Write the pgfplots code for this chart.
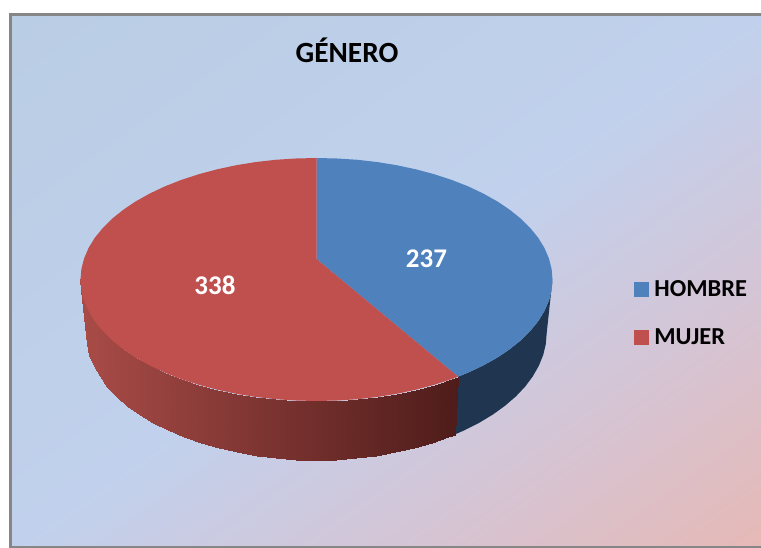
\documentclass[border=0pt]{standalone}
\usepackage{fontspec}
\setmainfont{Carlito}
\usepackage{pgfplots}
\pgfplotsset{compat=1.18}

\definecolor{topblue}{RGB}{79,129,189}
\definecolor{topred}{RGB}{192,80,77}
\definecolor{sideblue}{RGB}{31,53,80}
\definecolor{framegray}{RGB}{134,134,134}

\begin{document}
\begin{tikzpicture}
\path[use as bounding box] (0,0) rectangle (761pt,548pt);
\begin{axis}[
    at={(0,0)}, anchor=south west,
    scale only axis, width=761pt, height=548pt,
    xmin=0, xmax=761, ymin=0, ymax=548,
    y dir=reverse,
    hide axis,
    point meta min=85, point meta max=458,
    legend style={at={(axis cs:634,278)}, anchor=north west, draw=none, fill=none,
        font=\fontsize{24.4}{24.4}\selectfont\bfseries, row sep=26.5pt, inner sep=0pt},
    legend cell align=left,
    legend image code/.code={\fill[#1] (0pt,-7pt) rectangle (14pt,7pt); \path[draw=none] (0pt,0pt) -- (18pt,0pt);},
    colormap={bgmap}{rgb255(0)=(185,205,228); rgb255(1)=(189,207,232); rgb255(2)=(193,209,237); rgb255(3)=(212,197,214); rgb255(4)=(230,185,182)},
    colormap={sidered}{rgb255(0)=(168,75,71); rgb255(1)=(78,28,26)},
]

% background
\addplot[patch, patch type=rectangle, shader=interp, colormap name=bgmap,
    point meta=explicit, forget plot,
    table/row sep=\\,
    patch table={0 1 4 3\\ 1 2 5 4\\ 3 4 7 6\\ 4 5 8 7\\}]
    table[meta=c] {
x y c\\
10 14 85\\ 385.5 14 178.25\\ 761 14 271.5\\
10 281 178.25\\ 385.5 281 271.5\\ 761 281 364.75\\
10 548 271.5\\ 385.5 548 364.75\\ 761 548 458\\
};

% frame
\addplot[draw=framegray, line width=2.6pt, forget plot] coordinates {
    (770,14.5) (10.5,14.5) (10.5,547) (770,547)
};

% side of the blue slice
\addplot[fill=sideblue, draw=none, forget plot] coordinates {
    (552.5,279.5) (551.6,290.1) (548.9,300.6) (544.5,310.9) (538.3,321.1) (530.4,330.8)
    (520.9,340.3) (509.8,349.2) (497.3,357.6) (483.4,365.4) (468.2,372.6) (458.1,376.7)
    (454.5,434.6) (464.4,430.3) (479.2,422.8) (492.8,414.6) (505.0,405.8) (515.8,396.5)
    (525.1,386.7) (532.8,376.4) (538.8,365.9) (543.2,355.0) (545.8,344.1) (546.7,333.0)
};

% side of the red slice
\addplot[patch, patch type=rectangle, shader=interp, colormap name=sidered,
    point meta=x, forget plot,
    table/row sep=\\,
    patch table={
    0 2 3 1\\ 2 4 5 3\\ 4 6 7 5\\ 6 8 9 7\\ 8 10 11 9\\ 10 12 13 11\\ 12 14 15 13\\
    14 16 17 15\\ 16 18 19 17\\ 18 20 21 19\\ 20 22 23 21\\ 22 24 25 23\\ 24 26 27 25\\
    26 28 29 27\\ 28 30 31 29\\ 30 32 33 31\\ 32 34 35 33\\ 34 36 37 35\\ 36 38 39 37\\
    38 40 41 39\\ 40 42 43 41\\ 42 44 45 43\\ 44 46 47 45\\ 46 48 49 47\\ 48 50 51 49\\
    50 52 53 51\\}]
    table {
x y\\
458.1 376.7\\ 454.5 434.6\\
451.9 379.0\\ 448.4 437.0\\
434.5 384.7\\ 431.5 443.0\\
416.2 389.6\\ 413.6 448.1\\
397.2 393.7\\ 395.0 452.3\\
377.6 396.9\\ 375.9 455.7\\
357.5 399.2\\ 356.2 458.1\\
337.1 400.5\\ 336.3 459.5\\
316.5 401.0\\ 316.2 460.0\\
295.9 400.5\\ 296.1 459.5\\
275.5 399.2\\ 276.2 458.1\\
255.4 396.9\\ 256.5 455.7\\
235.8 393.7\\ 237.4 452.3\\
216.8 389.6\\ 218.8 448.1\\
198.5 384.7\\ 200.9 443.0\\
181.1 379.0\\ 184.0 437.0\\
164.8 372.6\\ 168.0 430.3\\
149.6 365.4\\ 153.2 422.8\\
135.7 357.6\\ 139.6 414.6\\
123.2 349.2\\ 127.4 405.8\\
112.1 340.3\\ 116.6 396.5\\
102.6 330.8\\ 107.3 386.7\\
94.7 321.1\\ 99.6 376.4\\
88.5 310.9\\ 93.6 365.9\\
84.1 300.6\\ 89.2 355.0\\
81.4 290.1\\ 86.6 344.1\\
80.5 279.5\\ 85.7 333.0\\
};

% top of the slices: HOMBRE 237, MUJER 338
\addplot[fill=topblue, draw=none, forget plot] coordinates {
    (316.5,259) (316.5,158.0) (337.1,158.5) (357.5,159.8) (377.6,162.1) (397.2,165.3)
    (416.2,169.4) (434.5,174.3) (451.9,180.0) (468.2,186.4) (483.4,193.6) (497.3,201.4)
    (509.8,209.8) (520.9,218.7) (530.4,228.2) (538.3,237.9) (544.5,248.1) (548.9,258.4)
    (551.6,268.9) (552.5,279.5) (551.6,290.1) (548.9,300.6) (544.5,310.9) (538.3,321.1)
    (530.4,330.8) (520.9,340.3) (509.8,349.2) (497.3,357.6) (483.4,365.4) (468.2,372.6)
    (458.1,376.7)
};
\addplot[fill=topred, draw=none, forget plot] coordinates {
    (316.5,259) (458.1,376.7) (451.9,379.0) (434.5,384.7) (416.2,389.6) (397.2,393.7)
    (377.6,396.9) (357.5,399.2) (337.1,400.5) (316.5,401.0) (295.9,400.5) (275.5,399.2)
    (255.4,396.9) (235.8,393.7) (216.8,389.6) (198.5,384.7) (181.1,379.0) (164.8,372.6)
    (149.6,365.4) (135.7,357.6) (123.2,349.2) (112.1,340.3) (102.6,330.8) (94.7,321.1)
    (88.5,310.9) (84.1,300.6) (81.4,290.1) (80.5,279.5) (81.4,268.9) (84.1,258.4)
    (88.5,248.1) (94.7,237.9) (102.6,228.2) (112.1,218.7) (123.2,209.8) (135.7,201.4)
    (149.6,193.6) (164.8,186.4) (181.1,180.0) (198.5,174.3) (216.8,169.4) (235.8,165.3)
    (255.4,162.1) (275.5,159.8) (295.9,158.5) (316.5,158.0)
};

\addlegendimage{topblue}
\addlegendentry{HOMBRE}
\addlegendimage{topred}
\addlegendentry{MUJER}

\node[font=\fontsize{29.3}{29.3}\selectfont\bfseries] at (axis cs:347,50) {GÉNERO};
\node[font=\fontsize{27}{27}\selectfont\bfseries, text=white] at (axis cs:426.5,259) {237};
\node[font=\fontsize{27}{27}\selectfont\bfseries, text=white] at (axis cs:215,285) {338};
\end{axis}
\end{tikzpicture}
\end{document}
